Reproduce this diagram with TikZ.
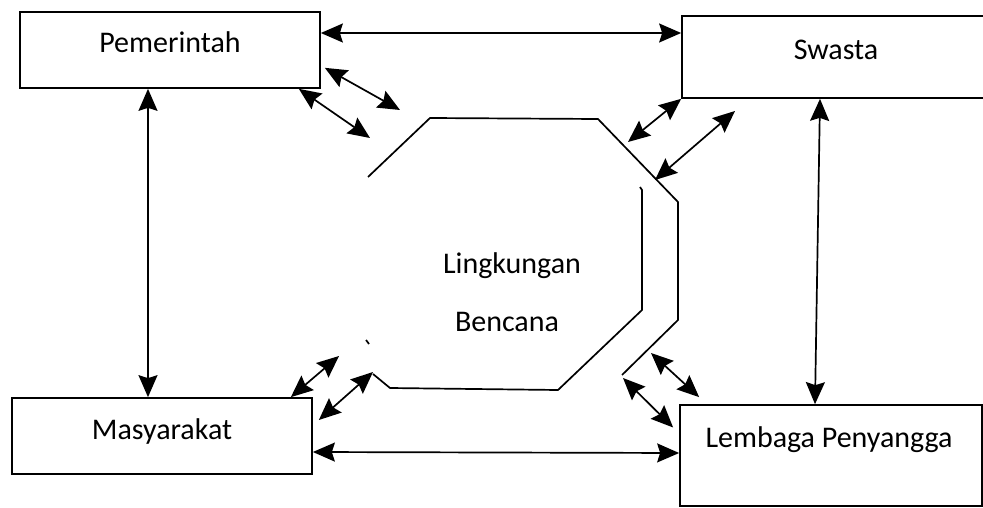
\documentclass[tikz,border=0pt]{standalone}
\usepackage{fontspec}
\setmainfont{Carlito}
\usetikzlibrary{arrows.meta}

\begin{document}
\begin{tikzpicture}[x=1pt, y=-1pt, line width=1.7pt,
  box/.style={rectangle, draw, minimum width=300pt, minimum height=76pt, font=\fontsize{30}{34}\selectfont},
  txt/.style={font=\fontsize{30}{34}\selectfont},
  link/.style={{Stealth[length=22pt, width=19pt, inset=3pt]}-{Stealth[length=22pt, width=19pt, inset=3pt]}}]
  \path[use as bounding box, clip] (0,0) rectangle (983,508);
  % the four parties
  \node[box] (pem) at (170,50) {\raisebox{15pt}{Pemerintah}};
  \node[box, minimum width=308pt, minimum height=82pt] (swa) at (836,57) {\raisebox{15pt}{Swasta}};
  \node[box] (mas) at (162,436) {\raisebox{13pt}{Masyarakat}};
  \node[box, minimum width=302pt, minimum height=101pt, label={[txt, yshift=16pt, xshift=-2pt]center:Lembaga Penyangga}] (lem) at (831,455.5) {};
  % disaster area
  \node[txt] (lingk) at (512,266) {Lingkungan};
  \node[txt] (benc) at (507,322) {Bencana};
  \draw (368,177) -- (430,118) -- (598,119) -- (678,202) -- (678,320) -- (622,375);
  \draw (640,187) -- (642,190) -- (642,310) -- (558,390) -- (390,388) -- (373,374);
  \draw (366,340) -- (369,344);
  \coordinate (p1) at (400,110);
  \coordinate (p2) at (370,138);
  \coordinate (s1) at (628,142);
  \coordinate (s2a) at (735,111);
  \coordinate (s2b) at (655,180);
  \coordinate (m1) at (339,356);
  \coordinate (m2) at (373,372);
  \coordinate (l1) at (651,353);
  \coordinate (l2) at (623,378);
  % links between parties
  \draw[link] ([yshift=17pt]pem.east) -- ([yshift=24pt]swa.west);
  \draw[link] ([xshift=-22pt]pem.south) -- ([xshift=-14pt]mas.north);
  \draw[link] ([xshift=-16pt]swa.south) -- ([xshift=-16pt]lem.north);
  \draw[link] ([yshift=-16pt]mas.east) -- ([yshift=2.5pt]lem.west);
  % links into the disaster area
  \draw[link] ([shift={(4pt,21pt)}]pem.south east) -- (p1);
  \draw[link] ([xshift=-22pt]pem.south east) -- (p2);
  \draw[link] (swa.south west) -- (s1);
  \draw[link] (s2a) -- (s2b);
  \draw[link] ([xshift=-22pt]mas.north east) -- (m1);
  \draw[link] ([shift={(6pt,16pt)}]mas.east) -- (m2);
  \draw[link] ([shift={(20pt,7pt)}]lem.north west) -- (l1);
  \draw[link] ([shift={(-6pt,28pt)}]lem.west) -- (l2);
\end{tikzpicture}
\end{document}
